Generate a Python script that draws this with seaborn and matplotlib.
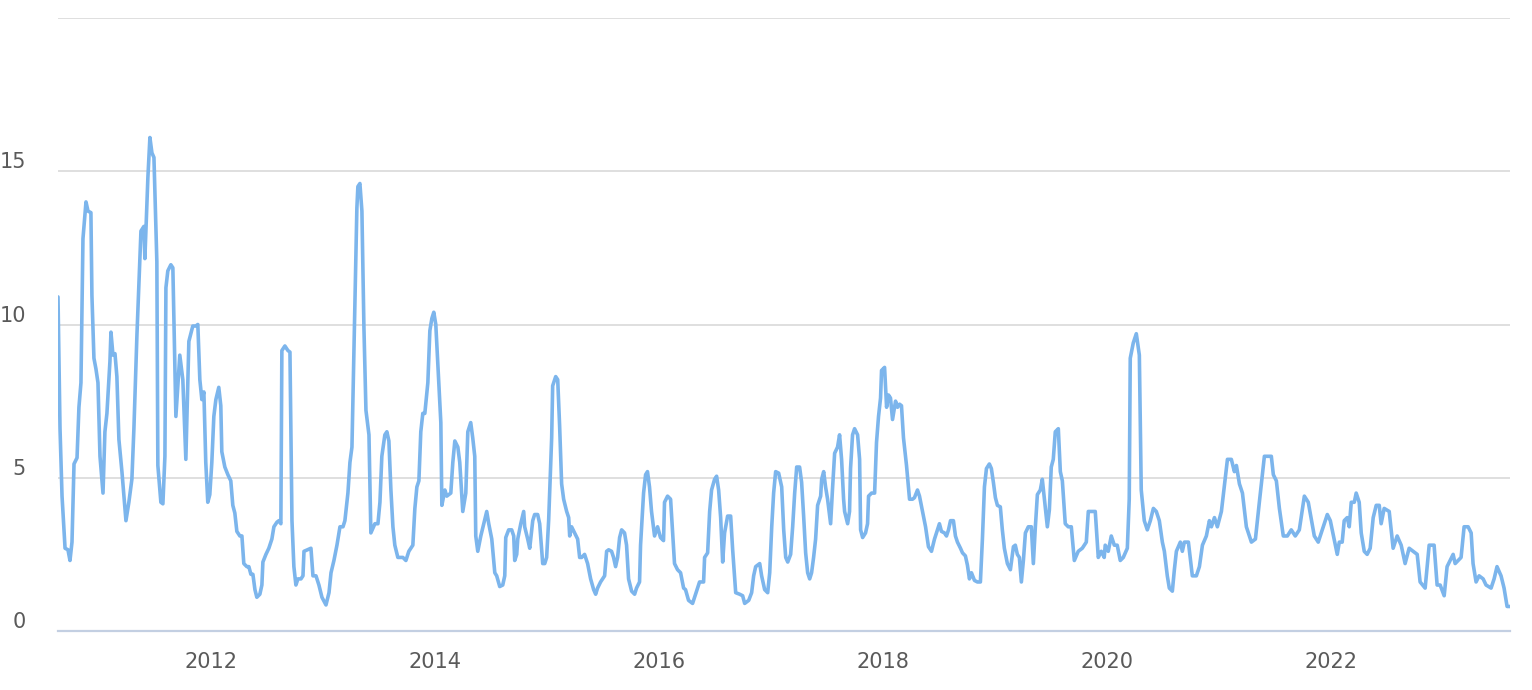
import pandas as pd
import matplotlib
matplotlib.use("Agg")
import matplotlib.pyplot as plt
import matplotlib.dates as mdates
import matplotlib.transforms as mtransforms
import seaborn as sns

# waktu (tahun desimal) dan nilai
years = [
    2010.635, 2010.653, 2010.671, 2010.698, 2010.724, 2010.742, 2010.760, 2010.778, 2010.805, 2010.822,
    2010.840, 2010.858, 2010.885, 2010.903, 2010.929, 2010.938, 2010.956, 2010.974, 2010.992, 2011.010,
    2011.037, 2011.054, 2011.072, 2011.099, 2011.108, 2011.126, 2011.144, 2011.161, 2011.179, 2011.206,
    2011.242, 2011.268, 2011.295, 2011.313, 2011.340, 2011.376, 2011.402, 2011.411, 2011.438, 2011.456,
    2011.474, 2011.492, 2011.518, 2011.527, 2011.554, 2011.572, 2011.590, 2011.599, 2011.616, 2011.643,
    2011.661, 2011.688, 2011.723, 2011.750, 2011.777, 2011.804, 2011.839, 2011.866, 2011.884, 2011.902,
    2011.920, 2011.938, 2011.955, 2011.973, 2011.991, 2012.009, 2012.027, 2012.045, 2012.071, 2012.089,
    2012.098, 2012.125, 2012.152, 2012.178, 2012.196, 2012.214, 2012.232, 2012.259, 2012.277, 2012.294,
    2012.321, 2012.339, 2012.357, 2012.375, 2012.393, 2012.410, 2012.437, 2012.455, 2012.464, 2012.491,
    2012.517, 2012.544, 2012.562, 2012.589, 2012.607, 2012.624, 2012.633, 2012.660, 2012.687, 2012.705,
    2012.723, 2012.740, 2012.758, 2012.776, 2012.803, 2012.821, 2012.830, 2012.892, 2012.910, 2012.937,
    2012.963, 2012.990, 2013.026, 2013.053, 2013.071, 2013.097, 2013.124, 2013.151, 2013.178, 2013.195,
    2013.222, 2013.240, 2013.258, 2013.302, 2013.311, 2013.329, 2013.347, 2013.365, 2013.383, 2013.410,
    2013.427, 2013.463, 2013.490, 2013.508, 2013.525, 2013.552, 2013.570, 2013.588, 2013.606, 2013.624,
    2013.641, 2013.668, 2013.686, 2013.713, 2013.740, 2013.766, 2013.802, 2013.820, 2013.838, 2013.856,
    2013.873, 2013.891, 2013.909, 2013.936, 2013.954, 2013.972, 2013.989, 2014.007, 2014.034, 2014.052,
    2014.061, 2014.088, 2014.105, 2014.141, 2014.159, 2014.177, 2014.204, 2014.221, 2014.248, 2014.275,
    2014.293, 2014.319, 2014.337, 2014.355, 2014.364, 2014.382, 2014.409, 2014.435, 2014.462, 2014.480,
    2014.507, 2014.534, 2014.551, 2014.578, 2014.605, 2014.623, 2014.632, 2014.658, 2014.685, 2014.703,
    2014.712, 2014.730, 2014.739, 2014.766, 2014.792, 2014.801, 2014.828, 2014.846, 2014.873, 2014.890,
    2014.917, 2014.935, 2014.962, 2014.980, 2014.997, 2015.015, 2015.042, 2015.051, 2015.078, 2015.096,
    2015.113, 2015.131, 2015.149, 2015.176, 2015.194, 2015.203, 2015.220, 2015.247, 2015.274, 2015.292,
    2015.310, 2015.336, 2015.363, 2015.390, 2015.417, 2015.435, 2015.452, 2015.479, 2015.515, 2015.533,
    2015.551, 2015.577, 2015.595, 2015.613, 2015.631, 2015.649, 2015.667, 2015.693, 2015.711, 2015.729,
    2015.756, 2015.783, 2015.800, 2015.827, 2015.836, 2015.863, 2015.881, 2015.898, 2015.916, 2015.934,
    2015.961, 2015.988, 2016.014, 2016.041, 2016.050, 2016.077, 2016.104, 2016.122, 2016.139, 2016.166,
    2016.193, 2016.220, 2016.237, 2016.264, 2016.300, 2016.336, 2016.362, 2016.398, 2016.407, 2016.434,
    2016.452, 2016.469, 2016.496, 2016.514, 2016.532, 2016.550, 2016.568, 2016.585, 2016.612, 2016.639,
    2016.657, 2016.684, 2016.719, 2016.746, 2016.764, 2016.800, 2016.826, 2016.844, 2016.862, 2016.898,
    2016.915, 2016.942, 2016.969, 2016.987, 2017.005, 2017.022, 2017.040, 2017.067, 2017.094, 2017.112,
    2017.130, 2017.148, 2017.174, 2017.192, 2017.210, 2017.228, 2017.254, 2017.272, 2017.290, 2017.308,
    2017.326, 2017.344, 2017.361, 2017.379, 2017.397, 2017.415, 2017.442, 2017.451, 2017.469, 2017.486,
    2017.504, 2017.531, 2017.549, 2017.567, 2017.593, 2017.611, 2017.629, 2017.647, 2017.656, 2017.683,
    2017.700, 2017.709, 2017.727, 2017.745, 2017.772, 2017.790, 2017.799, 2017.817, 2017.843, 2017.861,
    2017.870, 2017.897, 2017.924, 2017.941, 2017.959, 2017.977, 2017.986, 2018.013, 2018.031, 2018.048,
    2018.066, 2018.084, 2018.111, 2018.129, 2018.147, 2018.164, 2018.182, 2018.209, 2018.236, 2018.263,
    2018.280, 2018.307, 2018.325, 2018.352, 2018.379, 2018.405, 2018.432, 2018.459, 2018.486, 2018.503,
    2018.521, 2018.548, 2018.566, 2018.584, 2018.602, 2018.628, 2018.646, 2018.664, 2018.691, 2018.709,
    2018.735, 2018.753, 2018.771, 2018.789, 2018.816, 2018.842, 2018.869, 2018.887, 2018.905, 2018.923,
    2018.949, 2018.967, 2018.985, 2019.003, 2019.021, 2019.047, 2019.065, 2019.083, 2019.110, 2019.137,
    2019.164, 2019.181, 2019.199, 2019.217, 2019.235, 2019.253, 2019.271, 2019.297, 2019.324, 2019.342,
    2019.360, 2019.378, 2019.404, 2019.422, 2019.449, 2019.467, 2019.485, 2019.502, 2019.520, 2019.538,
    2019.565, 2019.583, 2019.601, 2019.627, 2019.654, 2019.681, 2019.708, 2019.743, 2019.779, 2019.815,
    2019.833, 2019.895, 2019.922, 2019.949, 2019.975, 2019.984, 2020.011, 2020.038, 2020.065, 2020.091,
    2020.118, 2020.145, 2020.181, 2020.198, 2020.207, 2020.234, 2020.261, 2020.288, 2020.305, 2020.332,
    2020.359, 2020.386, 2020.413, 2020.439, 2020.466, 2020.493, 2020.511, 2020.537, 2020.555, 2020.582,
    2020.600, 2020.618, 2020.653, 2020.671, 2020.689, 2020.725, 2020.760, 2020.796, 2020.823, 2020.850,
    2020.885, 2020.912, 2020.930, 2020.957, 2020.983, 2021.019, 2021.073, 2021.108, 2021.135, 2021.153,
    2021.180, 2021.207, 2021.242, 2021.287, 2021.323, 2021.358, 2021.403, 2021.429, 2021.465, 2021.483,
    2021.510, 2021.537, 2021.572, 2021.608, 2021.643, 2021.679, 2021.715, 2021.760, 2021.795, 2021.849,
    2021.884, 2021.911, 2021.965, 2021.992, 2022.054, 2022.072, 2022.098, 2022.116, 2022.143, 2022.161,
    2022.179, 2022.206, 2022.223, 2022.250, 2022.268, 2022.295, 2022.321, 2022.348, 2022.375, 2022.402,
    2022.429, 2022.446, 2022.473, 2022.518, 2022.553, 2022.589, 2022.625, 2022.660, 2022.696, 2022.732,
    2022.768, 2022.794, 2022.839, 2022.875, 2022.919, 2022.946, 2022.973, 2023.009, 2023.035, 2023.062,
    2023.089, 2023.107, 2023.160, 2023.187, 2023.223, 2023.250, 2023.267, 2023.294, 2023.321, 2023.357,
    2023.383, 2023.428, 2023.455, 2023.481, 2023.517, 2023.544, 2023.571, 2023.597,
]

values = [
    10.9, 6.6, 4.4, 2.7, 2.65, 2.3, 2.9, 5.45, 5.65, 7.3,
    8.1, 12.8, 14.0, 13.7, 13.65, 10.95, 8.9, 8.55, 8.1, 5.7,
    4.5, 6.5, 7.1, 8.8, 9.75, 9.0, 9.05, 8.3, 6.25, 5.2,
    3.6, 4.2, 4.95, 6.6, 9.65, 13.05, 13.2, 12.15, 14.8, 16.1,
    15.6, 15.45, 12.05, 5.4, 4.2, 4.15, 5.7, 11.2, 11.75, 11.95,
    11.85, 7.0, 9.0, 8.2, 5.6, 9.45, 9.95, 9.95, 10.0, 8.2,
    7.55, 7.8, 5.5, 4.2, 4.45, 5.5, 7.0, 7.55, 7.95, 7.35,
    5.85, 5.35, 5.1, 4.9, 4.1, 3.85, 3.25, 3.1, 3.1, 2.2,
    2.1, 2.1, 1.85, 1.85, 1.35, 1.1, 1.2, 1.5, 2.25, 2.5,
    2.7, 3.0, 3.4, 3.55, 3.6, 3.5, 9.15, 9.3, 9.15, 9.1,
    3.6, 2.1, 1.5, 1.7, 1.7, 1.8, 2.6, 2.7, 1.8, 1.8,
    1.5, 1.1, 0.85, 1.25, 1.9, 2.3, 2.8, 3.4, 3.4, 3.6,
    4.5, 5.5, 6.0, 13.8, 14.5, 14.6, 13.7, 9.9, 7.2, 6.4,
    3.2, 3.5, 3.5, 4.2, 5.7, 6.4, 6.5, 6.2, 4.6, 3.4,
    2.8, 2.4, 2.4, 2.4, 2.3, 2.6, 2.8, 4.0, 4.7, 4.9,
    6.5, 7.1, 7.1, 8.1, 9.8, 10.2, 10.4, 10.0, 8.1, 6.8,
    4.1, 4.6, 4.4, 4.5, 5.5, 6.2, 6.0, 5.5, 3.9, 4.5,
    6.5, 6.8, 6.3, 5.7, 3.1, 2.6, 3.1, 3.5, 3.9, 3.5,
    3.0, 1.9, 1.8, 1.45, 1.5, 1.8, 3.05, 3.3, 3.3, 3.1,
    2.3, 2.5, 3.0, 3.5, 3.9, 3.4, 3.0, 2.7, 3.6, 3.8,
    3.8, 3.5, 2.2, 2.2, 2.4, 3.6, 6.3, 8.0, 8.3, 8.2,
    6.7, 4.8, 4.3, 3.9, 3.7, 3.1, 3.4, 3.2, 3.0, 2.4,
    2.4, 2.5, 2.2, 1.7, 1.35, 1.2, 1.4, 1.6, 1.8, 2.6,
    2.65, 2.6, 2.4, 2.1, 2.4, 3.05, 3.3, 3.2, 2.8, 1.7,
    1.3, 1.2, 1.4, 1.6, 2.8, 4.5, 5.1, 5.2, 4.7, 3.9,
    3.1, 3.4, 3.05, 2.95, 4.2, 4.4, 4.3, 3.2, 2.2, 2.0,
    1.9, 1.4, 1.35, 1.0, 0.9, 1.3, 1.6, 1.6, 2.4, 2.55,
    3.9, 4.6, 4.95, 5.05, 4.6, 3.7, 2.25, 3.2, 3.75, 3.75,
    2.65, 1.25, 1.2, 1.15, 0.9, 1.0, 1.25, 1.8, 2.1, 2.2,
    1.8, 1.35, 1.25, 1.9, 3.4, 4.5, 5.2, 5.15, 4.7, 3.3,
    2.4, 2.25, 2.5, 3.4, 4.5, 5.35, 5.35, 4.85, 3.75, 2.55,
    1.9, 1.7, 1.9, 2.4, 3.0, 4.1, 4.4, 4.95, 5.2, 4.7,
    4.3, 3.5, 4.7, 5.8, 6.0, 6.4, 5.6, 4.3, 3.9, 3.5,
    3.9, 5.3, 6.4, 6.6, 6.4, 5.6, 3.3, 3.05, 3.2, 3.5,
    4.4, 4.5, 4.5, 6.15, 7.0, 7.6, 8.5, 8.6, 7.3, 7.7,
    7.6, 6.9, 7.5, 7.3, 7.4, 7.35, 6.3, 5.4, 4.3, 4.3,
    4.35, 4.6, 4.4, 3.9, 3.4, 2.75, 2.6, 3.0, 3.3, 3.5,
    3.25, 3.2, 3.1, 3.3, 3.6, 3.6, 3.1, 2.9, 2.7, 2.55,
    2.45, 2.15, 1.7, 1.9, 1.65, 1.6, 1.6, 3.0, 4.7, 5.3,
    5.45, 5.3, 4.85, 4.35, 4.1, 4.05, 3.3, 2.7, 2.2, 2.0,
    2.75, 2.8, 2.5, 2.4, 1.6, 2.3, 3.2, 3.4, 3.4, 2.2,
    3.4, 4.45, 4.6, 4.95, 4.0, 3.4, 3.95, 5.35, 5.6, 6.5,
    6.6, 5.2, 4.9, 3.5, 3.4, 3.4, 2.3, 2.6, 2.7, 2.9,
    3.9, 3.9, 2.4, 2.6, 2.4, 2.8, 2.6, 3.1, 2.8, 2.8,
    2.3, 2.4, 2.7, 4.3, 8.9, 9.4, 9.7, 9.0, 4.6, 3.6,
    3.3, 3.6, 4.0, 3.9, 3.6, 2.9, 2.6, 1.8, 1.4, 1.3,
    2.0, 2.6, 2.9, 2.6, 2.9, 2.9, 1.8, 1.8, 2.1, 2.8,
    3.1, 3.6, 3.4, 3.7, 3.4, 3.9, 5.6, 5.6, 5.2, 5.4,
    4.8, 4.5, 3.4, 2.9, 3.0, 4.2, 5.7, 5.7, 5.7, 5.1,
    4.9, 4.0, 3.1, 3.1, 3.3, 3.1, 3.3, 4.4, 4.2, 3.1,
    2.9, 3.2, 3.8, 3.6, 2.5, 2.9, 2.9, 3.6, 3.7, 3.4,
    4.2, 4.2, 4.5, 4.2, 3.2, 2.6, 2.5, 2.7, 3.7, 4.1,
    4.1, 3.5, 4.0, 3.9, 2.7, 3.1, 2.8, 2.2, 2.7, 2.6,
    2.5, 1.6, 1.4, 2.8, 2.8, 1.5, 1.5, 1.15, 2.1, 2.3,
    2.5, 2.2, 2.4, 3.4, 3.4, 3.2, 2.2, 1.6, 1.8, 1.7,
    1.5, 1.4, 1.7, 2.1, 1.8, 1.4, 0.8, 0.8,
]

y_ticks = [0, 5, 10, 15, 20]
y_labels = ["0", "5", "10", "15", ""]
x_tick_years = [2012, 2014, 2016, 2018, 2020, 2022]


def to_date(y):
    # tahun desimal -> datetime
    start = pd.Timestamp(int(y), 1, 1)
    end = pd.Timestamp(int(y) + 1, 1, 1)
    return start + (end - start) * (y - int(y))


df = pd.DataFrame({"date": [to_date(y) for y in years], "value": values})

sns.set_style("white")
plt.rcParams["font.family"] = ["DejaVu Sans"]

fig = plt.figure(figsize=(15.32, 6.9), dpi=100)
ax = fig.add_axes([58 / 1532, 59 / 690, 1452 / 1532, 613 / 690])

sns.lineplot(data=df, x="date", y="value", ax=ax, color="#7cb5ec",
             linewidth=2.6, solid_joinstyle="round")

ax.set_xlim(df["date"].iloc[0], df["date"].iloc[-1])
ax.set_ylim(0, 20)
ax.set_xlabel("")
ax.set_ylabel("")

ax.set_yticks(y_ticks)
ax.set_yticklabels(y_labels)
ax.set_xticks([pd.Timestamp(y, 1, 1) for y in x_tick_years])
ax.xaxis.set_major_formatter(mdates.DateFormatter("%Y"))

ax.grid(axis="y", color="#d6d6d6", linewidth=1.1)
ax.grid(axis="x", visible=False)
for s in ["top", "right", "left"]:
    ax.spines[s].set_visible(False)
ax.spines["bottom"].set_color("#c3cfe2")
ax.spines["bottom"].set_linewidth(1.6)

ax.tick_params(axis="y", length=0, pad=23, labelsize=15, labelcolor="#5a5a5a")
ax.tick_params(axis="x", length=13, width=1.3, color="#c3cfe2", pad=2,
               labelsize=15, labelcolor="#5a5a5a")

# label sumbu y sedikit di atas garis grid
offset = mtransforms.ScaledTranslation(0, 0.11, fig.dpi_scale_trans)
for lbl in ax.get_yticklabels():
    lbl.set_transform(lbl.get_transform() + offset)

plt.savefig("out.png", dpi=100)
plt.close()
